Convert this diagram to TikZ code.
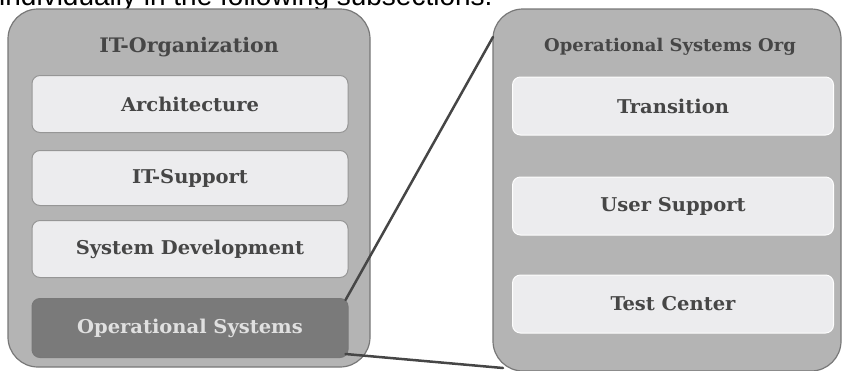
\documentclass[tikz,border=0pt]{standalone}
\usepackage{fontspec}
\setmainfont{DejaVu Serif Condensed}[FakeStretch=1.14]
\newfontfamily\bodyfont{Liberation Sans}
\definecolor{orgfill}{RGB}{180,180,180}
\definecolor{orgline}{RGB}{120,120,120}
\definecolor{unitfill}{RGB}{236,236,238}
\definecolor{unitline}{RGB}{150,150,150}
\definecolor{darkunit}{RGB}{122,122,122}
\definecolor{labelgray}{RGB}{70,70,70}
\definecolor{linkgray}{RGB}{70,70,70}
\tikzset{
  orgbox/.style={draw=orgline, line width=1.2pt, fill=orgfill, rounded corners=30pt,
    inner sep=0pt},
  unitbox/.style={draw=unitline, line width=1pt, fill=unitfill, rounded corners=8pt,
    minimum height=57pt, inner sep=0pt, text=labelgray,
    font=\fontsize{19}{22}\selectfont\bfseries},
  unitsoft/.style={unitbox, draw=white!90!unitfill},
  darkbox/.style={unitbox, draw=orgline, fill=darkunit, text=white!88!black},
  orgtitle/.style={text=labelgray, font=\fontsize{19}{22}\selectfont\bfseries},
  link/.style={draw=linkgray, line width=2.5pt, line cap=round}
}
\begin{document}
\begin{tikzpicture}[x=1pt, y=-1pt]
\useasboundingbox (0,0) rectangle (842,370);
\begin{scope}
\clip (0,0) rectangle (842,370);
% running text of the page above the figure
\node[anchor=base west, inner sep=0pt, font=\bodyfont\fontsize{28}{32}\selectfont]
  (bodytext) at (-1,5) {individually in the following subsections.};

% left: the IT organisation
\node[orgbox, minimum width=362pt, minimum height=358pt] (itorg) at (189,188) {};
\node[orgtitle, font=\fontsize{20}{24}\selectfont\bfseries] (ittitle) at (189,47) {IT-Organization};
\node[unitbox, minimum width=316pt] (arch) at (190,104) {Architecture};
\node[unitbox, minimum width=316pt, minimum height=55pt] (itsup) at (190,178) {IT-Support};
\node[unitbox, minimum width=316pt] (sysdev) at (190,249) {System Development};
\node[darkbox, minimum width=316pt, minimum height=59pt] (opsys) at (190,328) {Operational Systems};

% right: the operational systems organisation
\node[orgbox, minimum width=348pt, minimum height=362pt] (opsorg) at (667,190) {};
\node[orgtitle, font=\fontsize{17.5}{21}\selectfont\bfseries] (opstitle) at (670,47) {Operational Systems Org};
\node[unitsoft, minimum width=321pt, minimum height=58pt] (trans) at (673,106) {Transition};
\node[unitsoft, minimum width=321pt, minimum height=58pt] (usersup) at (673,206) {User Support};
\node[unitsoft, minimum width=321pt, minimum height=58pt] (testc) at (673,304) {Test Center};

% zoom lines from the operational systems unit to its detail
\coordinate (zoomtop) at (493,37);
\coordinate (zoombot) at (503,368);
\draw[link] ([xshift=-3pt,yshift=-2pt]opsys.north east) -- (zoomtop);
\draw[link] ([xshift=-3pt,yshift=4pt]opsys.south east) -- (zoombot);
\end{scope}
\end{tikzpicture}
\end{document}
